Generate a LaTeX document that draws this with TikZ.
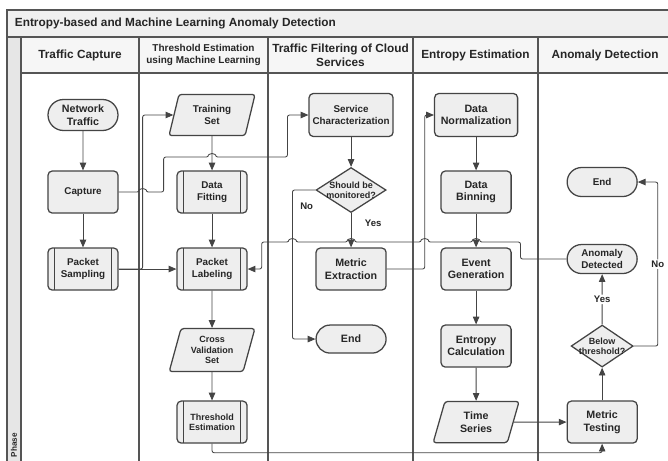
\documentclass[tikz,border=0pt]{standalone}
\usepackage{fontspec}
\setmainfont{Liberation Sans}
\usetikzlibrary{positioning, arrows.meta, calc, shapes.geometric, shapes.misc}

\definecolor{lanegray}{HTML}{555555}
\definecolor{linegray}{HTML}{444444}
\definecolor{boxfill}{HTML}{EEEEEE}
\definecolor{barfill}{HTML}{F0F0F0}
\definecolor{hdrfill}{HTML}{F6F6F6}
\definecolor{stripfill}{HTML}{E6E6E6}

\begin{document}
\begin{tikzpicture}[x=0.025cm, y=-0.025cm, on grid, >={Triangle[length=5.5pt,width=4.6pt]},
  every node/.style={font=\bfseries\fontsize{7}{8.2}\selectfont, align=center, text=black!85},
  bigtxt/.style={font=\bfseries\fontsize{7.6}{8.8}\selectfont},
  smalltxt/.style={font=\bfseries\fontsize{6.4}{7.4}\selectfont},
  hdr/.style={font=\bfseries\fontsize{8.4}{9.8}\selectfont},
  base/.style={draw=linegray, line width=0.9pt, fill=boxfill, minimum width=1.75cm, minimum height=1.05cm, inner sep=1pt},
  proc/.style={base, rectangle, rounded corners=3pt},
  predef/.style={proc, path picture={
    \draw[linegray, line width=0.8pt]
      ([xshift=0.17cm]path picture bounding box.north west) -- ([xshift=0.17cm]path picture bounding box.south west)
      ([xshift=-0.17cm]path picture bounding box.north east) -- ([xshift=-0.17cm]path picture bounding box.south east);}},
  term/.style={base, rounded rectangle, inner xsep=0pt, minimum height=0.775cm},
  io/.style={base, trapezium, trapezium left angle=74, trapezium right angle=106, trapezium stretches=true, minimum width=2.15cm, minimum height=1.03cm, rounded corners=2pt},
  dec/.style={base, diamond, aspect=1.6, inner sep=-3pt, minimum width=1.75cm, minimum height=1.125cm, font=\bfseries\fontsize{6.4}{7.2}\selectfont},
  lane/.style={draw=lanegray, line width=1pt},
  flow/.style={->, draw=linegray, line width=0.6pt, rounded corners=1.5pt},
  lbl/.style={font=\bfseries\fontsize{6.8}{8}\selectfont, inner sep=1pt}]

\useasboundingbox (0,0) rectangle (668,460);
\clip (0,0) rectangle (668,460);

% Pool and lanes
\fill[white] (0,0) rectangle (668,460);
\fill[barfill] (7,10) rectangle (672,37);
\fill[hdrfill] (21,37) rectangle (672,73);
\fill[stripfill] (7,37) rectangle (21,470);
\draw[lane] (7,470) -- (7,10) -- (672,10) (7,37) -- (672,37) (21,73) -- (672,73);
\draw[lane] (21,37) -- (21,470) (139,37) -- (139,470) (268,37) -- (268,470) (413,37) -- (413,470) (538,37) -- (538,470);

\node[anchor=west, hdr] (title) at (10,23.5) {Entropy-based and Machine Learning Anomaly Detection};
\node[hdr] (laneA) at (80,55) {Traffic Capture};
\node[font=\bfseries\fontsize{7.1}{8.4}\selectfont] (laneB) at (203.5,55) {Threshold Estimation\\using Machine Learning};
\node[hdr] (laneC) at (340.5,55) {Traffic Filtering of Cloud\\Services};
\node[hdr] (laneD) at (475.5,55) {Entropy Estimation};
\node[hdr] (laneE) at (605,55) {Anomaly Detection};
\node[rotate=90, anchor=west, font=\bfseries\fontsize{5.8}{7}\selectfont] (phase) at (14,462) {Phase};

% Traffic capture
\node[term, bigtxt] (net) at (83,115) {Network\\Traffic};
\node[proc, below=1.925cm of net] (capture) {Capture};
\node[predef, below=1.925cm of capture] (sampling) {Packet\\Sampling};

% Threshold estimation
\node[io, right=3.225cm of net] (training) {Training\\Set};
\node[predef, below=1.925cm of training] (fitting) {Data\\Fitting};
\node[predef, below=1.925cm of fitting] (labeling) {Packet\\Labeling};
\node[io, below=2.025cm of labeling, smalltxt, minimum height=1.075cm] (crossval) {Cross\\Validation\\Set};
\node[predef, below=1.8cm of crossval, smalltxt] (thresh) {Threshold\\Estimation};

% Cloud services filtering
\node[proc, right=3.475cm of training, minimum width=2.1cm, minimum height=1.075cm] (service) {Service\\Characterization};
\node[dec, below=1.875cm of service] (monitored) {Should be\\monitored?};
\node[proc, below=1.975cm of monitored, bigtxt] (extraction) {Metric\\Extraction};
\node[term, below=1.75cm of extraction, minimum height=0.7cm, bigtxt] (endC) {End};

% Entropy estimation
\node[proc, right=3.125cm of service, minimum width=2.075cm, minimum height=1.075cm, bigtxt] (normal) {Data\\Normalization};
\node[proc, below=1.925cm of normal, bigtxt] (binning) {Data\\Binning};
\node[proc, below=1.925cm of binning, bigtxt] (event) {Event\\Generation};
\node[proc, below=1.925cm of event, bigtxt] (entropy) {Entropy\\Calculation};
\node[io, below=1.9cm of entropy, bigtxt] (series) {Time\\Series};

% Anomaly detection
\node[proc, right=3.15cm of series, bigtxt] (testing) {Metric\\Testing};
\node[dec, above=1.9cm of testing, minimum width=1.55cm, minimum height=1.05cm] (belowthr) {Below\\threshold?};
\node[term, above=2.175cm of belowthr, minimum height=0.725cm] (detected) {Anomaly\\Detected};
\node[term, above=1.925cm of detected, minimum height=0.725cm] (endE) {End};

% Bend points
\coordinate (sampJog) at ($(sampling.east)+(0.6cm,0pt)$);
\coordinate (capJog) at ($(capture.east)+(1.125cm,0pt)$);
\coordinate (capY) at (0,157);
\coordinate (svcJog) at ($(service.west)+(-0.525cm,0pt)$);
\coordinate (noJog) at ($(monitored.west)+(-0.575cm,0pt)$);
\coordinate (exJog) at ($(extraction.east)+(0.95cm,0pt)$);
\coordinate (backY) at (0,242);
\coordinate (backJog) at ($(detected.west)+(-1.15cm,0pt)$);
\coordinate (labJog) at ($(labeling.east)+(0.35cm,0pt)$);
\coordinate (noJogE) at ($(belowthr.east)+(0.6cm,0pt)$);

% Connectors
\draw[flow] (net) -- (capture);
\draw[flow] (capture) -- (sampling);
\draw[flow] (sampling) -- (labeling);
\draw[flow] (sampling.east) -- (sampJog) |- (training.west);
\draw[flow] (capture.east) -- ($(sampJog |- capture.east)+(-2.5pt,0pt)$) arc[start angle=180, end angle=0, radius=2.5pt]
  -- (capJog) -- (capJog |- capY)
  -- ($(training.south |- capY)+(-2.5pt,0pt)$) arc[start angle=180, end angle=0, radius=2.5pt]
  -- (svcJog |- capY) |- (service.west);
\draw[flow] (training) -- (fitting);
\draw[flow] (fitting) -- (labeling);
\draw[flow] (labeling) -- (crossval);
\draw[flow] (crossval) -- (thresh);
\draw[flow] (thresh.south) -- ++(0,-0.225cm) -| (testing.south);

\draw[flow] (service) -- (monitored);
\draw[flow] (monitored) -- node[lbl, pos=0.3, anchor=west, xshift=0.3cm] (yesC) {Yes} (extraction);
\draw[flow] (monitored.west) -- (noJog) |- node[lbl, pos=0.055, anchor=west, xshift=0.15cm] (noC) {No} (endC.west);
\draw[flow] (extraction.east) -- (exJog) |- (normal.west);

\draw[flow] (normal) -- (binning);
\draw[flow] (binning) -- (event);
\draw[flow] (event) -- (entropy);
\draw[flow] (entropy) -- (series);
\draw[flow] (series) -- (testing);

\draw[flow] (testing) -- (belowthr);
\draw[flow] (belowthr) -- node[lbl, fill=white] (yesE) {Yes} (detected);
\draw[flow] (belowthr.east) -- (noJogE) |- node[lbl, fill=white, pos=0.25] (noE) {No} (endE.east);
\draw[flow] (detected.west) -- (backJog) -- (backJog |- backY)
  -- ($(binning.south |- backY)+(2.5pt,0pt)$) arc[start angle=0, end angle=180, radius=2.5pt]
  -- ($(exJog |- backY)+(2.5pt,0pt)$) arc[start angle=0, end angle=180, radius=2.5pt]
  -- ($(extraction.north |- backY)+(2.5pt,0pt)$) arc[start angle=0, end angle=180, radius=2.5pt]
  -- ($(noJog |- backY)+(2.5pt,0pt)$) arc[start angle=0, end angle=180, radius=2.5pt]
  -- (labJog |- backY) |- (labeling.east);

\end{tikzpicture}
\end{document}
